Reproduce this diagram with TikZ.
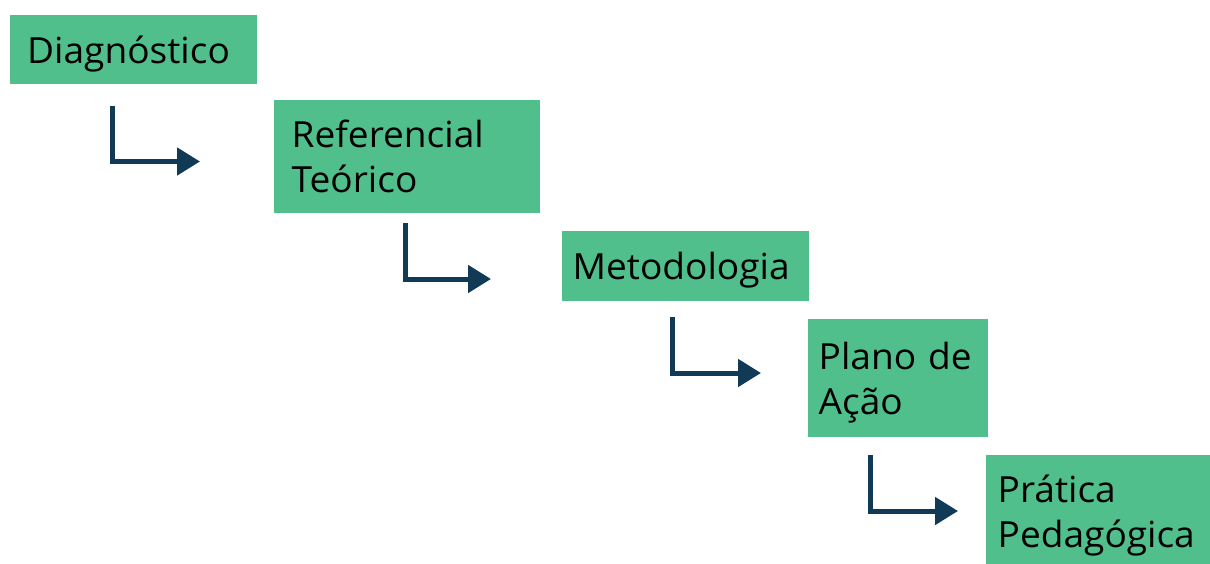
\documentclass[tikz,border=0pt]{standalone}
\usepackage{fontspec}
\setmainfont{Open Sans}[FakeStretch=1.03]
\usepackage{xcolor}
\usetikzlibrary{arrows.meta}

\definecolor{etapagreen}{RGB}{80,191,140}
\definecolor{setanavy}{RGB}{16,58,85}

\begin{document}
\begin{tikzpicture}[
    x=1pt, y=-1pt,
    etapa/.style={fill=etapagreen, anchor=north west, inner ysep=0pt,
        align=left, font=\fontsize{36}{45}\selectfont,
        execute at begin node={\rule{0pt}{1em}},
        execute at end node={\rule[-0.235em]{0pt}{0pt}}},
    seta/.style={-{Triangle[length=23pt,width=27pt]}, line width=5pt, setanavy}
]
\useasboundingbox (0,0) rectangle (1210,563);

% === Etapas ===
\node[etapa, inner xsep=17pt, text width=213pt, minimum height=69pt] (diag) at (10,15) {Diagnóstico};
\node[etapa, inner xsep=17.5pt, text width=231pt, minimum height=113pt] (refer) at (274,100) {Referencial\\Teórico};
\node[etapa, inner xsep=10.5pt, text width=226pt, minimum height=70pt] (metod) at (562,231) {Metodologia};
\node[etapa, inner xsep=10.5pt, text width=159pt, minimum height=118pt] (plano) at (808,319) {Plano de\\Ação};
\node[etapa, inner xsep=11.5pt, text width=201pt, minimum height=113pt] (pratica) at (986,455) {Prática\\Pedagógica};

% === Setas entre etapas ===
\foreach \i/\sx/\sy/\ex/\ey in {1/112.5/106/200/161.5, 2/405.5/223/491/279,
                                 3/672.5/317/761/373, 4/870.5/455/958/511} {
    \coordinate (s\i) at (\sx,\sy);
    \coordinate (e\i) at (\ex,\ey);
    \draw[seta] (s\i) |- (e\i);
}

\end{tikzpicture}
\end{document}
